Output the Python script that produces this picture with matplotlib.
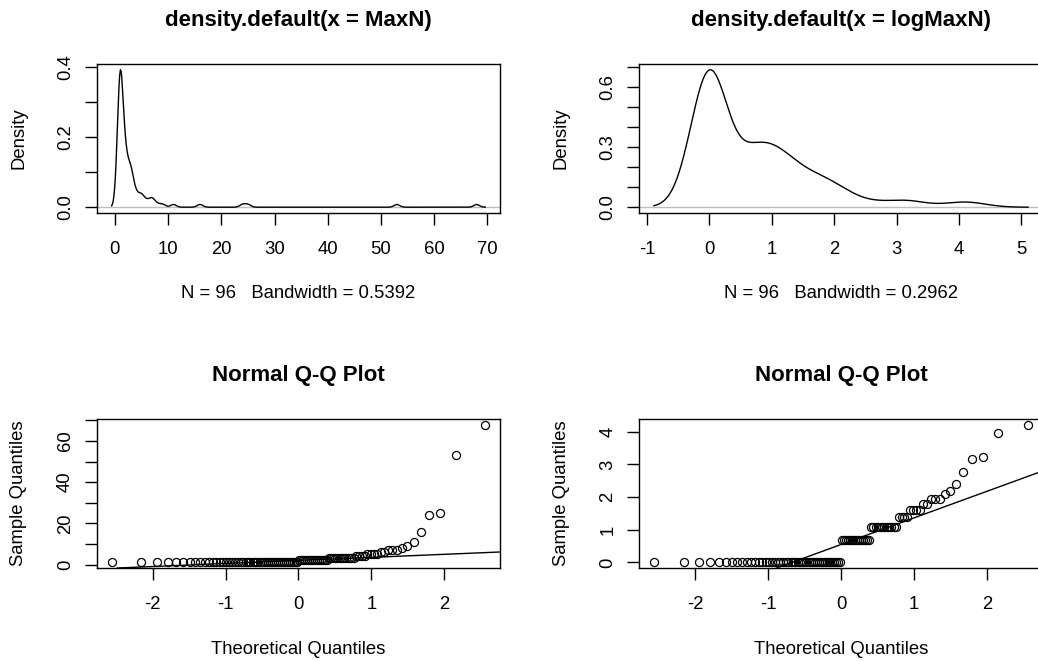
import numpy as np
import matplotlib
matplotlib.use("Agg")
import matplotlib.pyplot as plt
from matplotlib.transforms import offset_copy
from statistics import NormalDist

# MaxN sample (n = 96): value and how often it occurs
maxn_values = [1, 2, 3, 4, 5, 6, 7, 8, 9, 11, 16, 24, 25, 53, 68]
maxn_counts = [48, 15, 12, 4, 4, 2, 3, 1, 1, 1, 1, 1, 1, 1, 1]

# bandwidths printed under the density plots
bw_maxn = 0.5392
bw_log = 0.2962

# tick positions / labels
tl_xticks = [0, 10, 20, 30, 40, 50, 60, 70]
tl_yticks = [0.0, 0.1, 0.2, 0.3, 0.4]
tl_ylabels = ["0.0", "", "0.2", "", "0.4"]
tr_xticks = [-1, 0, 1, 2, 3, 4, 5]
tr_yticks = [0.0, 0.1, 0.2, 0.3, 0.4, 0.5, 0.6, 0.7]
tr_ylabels = ["0.0", "", "", "0.3", "", "", "0.6", ""]
qq_xticks = [-2, -1, 0, 1, 2]
bl_yticks = [0, 10, 20, 30, 40, 50, 60, 70]
bl_ylabels = ["0", "", "20", "", "40", "", "60", ""]
br_yticks = [0, 1, 2, 3, 4]
br_ylabels = ["0", "1", "2", "3", "4"]

maxn = np.repeat(maxn_values, maxn_counts).astype(float)
logmaxn = np.log(maxn)
n = len(maxn)

plt.rcParams["font.family"] = ["Liberation Sans", "DejaVu Sans"]
FS = 13.3

W, H = 1038, 661
fig = plt.figure(figsize=(W / 100, H / 100), dpi=100)


def box(l, t, r, b):
    return fig.add_axes([l / W, 1 - b / H, (r - l) / W, (b - t) / H])


def rpad(lo, hi):
    d = (hi - lo) * 0.04
    return lo - d, hi + d


def kde(x, bw):
    grid = np.linspace(x.min() - 3 * bw, x.max() + 3 * bw, 512)
    z = (grid[:, None] - x[None, :]) / bw
    y = np.exp(-0.5 * z ** 2).sum(axis=1) / (len(x) * bw * np.sqrt(2 * np.pi))
    return grid, y


def style(ax, xticks, yticks, ylabels, title, xlabel, ylabel, xlab_off=-81):
    ax.set_xticks(xticks)
    ax.set_xticklabels([str(t) for t in xticks], fontsize=FS)
    ax.set_yticks(yticks)
    ax.set_yticklabels(ylabels, fontsize=FS, rotation=90, va="center")
    ax.tick_params(direction="out", length=8.3, width=1.0, colors="black")
    ax.tick_params(axis="x", pad=12)
    ax.tick_params(axis="y", pad=8)
    for s in ax.spines.values():
        s.set_linewidth(1.0)
    ax.text(0.5, 1, title, transform=offset_copy(ax.transAxes, fig, y=44, units="dots"),
            ha="center", va="center", fontsize=16, fontweight="bold")
    ax.text(0.5, 0, xlabel, transform=offset_copy(ax.transAxes, fig, y=xlab_off, units="dots"),
            ha="center", va="center", fontsize=FS)
    ax.text(0, 0.5, ylabel, transform=offset_copy(ax.transAxes, fig, x=-78, units="dots"),
            ha="center", va="center", fontsize=FS, rotation=90)


# density plots
for (l, r), x, bw, name, xt, yt, yl in [
    ((96.7, 500.2), maxn, bw_maxn, "MaxN", tl_xticks, tl_yticks, tl_ylabels),
    ((639.0, 1043.0), logmaxn, bw_log, "logMaxN", tr_xticks, tr_yticks, tr_ylabels),
]:
    ax = box(l, 64.3, r, 212.7)
    gx, gy = kde(x, bw)
    ax.axhline(0, color="#BEBEBE", lw=1.0)
    ax.plot(gx, gy, color="black", lw=1.0)
    ax.set_xlim(*rpad(gx.min(), gx.max()))
    ax.set_ylim(*rpad(0, gy.max()))
    style(ax, xt, yt, yl, f"density.default(x = {name})",
          f"N = {n}   Bandwidth = {bw}", "Density")

# normal Q-Q plots
theo = np.array([NormalDist().inv_cdf((i - 0.5) / n) for i in range(1, n + 1)])
for (l, r), x, yt, yl in [
    ((96.7, 500.2), maxn, bl_yticks, bl_ylabels),
    ((639.0, 1043.0), logmaxn, br_yticks, br_ylabels),
]:
    ax = box(l, 419, r, 568)
    xs = np.sort(x)
    ax.plot(theo, xs, "o", mfc="none", mec="black", ms=5.8, mew=0.9)
    q1, q3 = np.quantile(x, [0.25, 0.75])
    t1, t3 = NormalDist().inv_cdf(0.25), NormalDist().inv_cdf(0.75)
    slope = (q3 - q1) / (t3 - t1)
    ax.axline((0, q1 - slope * t1), slope=slope, color="black", lw=1.0)
    ax.set_xlim(*rpad(theo.min(), theo.max()))
    ax.set_ylim(*rpad(xs.min(), xs.max()))
    style(ax, qq_xticks, yt, yl, "Normal Q-Q Plot", "Theoretical Quantiles",
          "Sample Quantiles", xlab_off=-82)

fig.savefig("out.png", dpi=100)
